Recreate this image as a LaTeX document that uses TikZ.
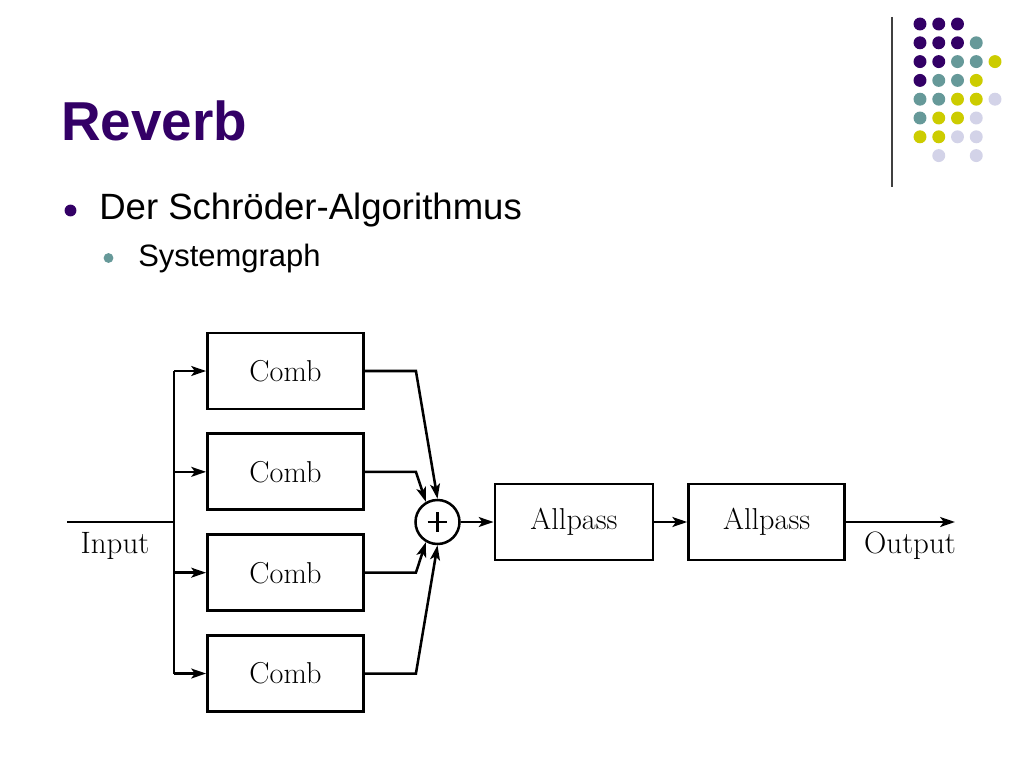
\documentclass[tikz,border=0pt]{standalone}
\usepackage{fontspec}
\setsansfont{Liberation Sans}
\usetikzlibrary{arrows.meta,positioning}
\definecolor{slidepurple}{HTML}{330066}
\definecolor{slideteal}{HTML}{669999}
\definecolor{slideyellow}{HTML}{CCCC00}
\definecolor{slidelav}{HTML}{D3D3E8}

\begin{document}
\begin{tikzpicture}[
  x=0.025cm, y=-0.025cm,
  node distance=0.82cm,
  blk/.style={draw, line width=2pt, minimum width=3.9cm, minimum height=1.9cm,
    inner sep=0pt, font=\fontsize{21.5}{24}\selectfont},
  lbl/.style={font=\fontsize{22}{25}\selectfont, inner sep=0pt, anchor=base},
  wire/.style={line width=1.8pt},
  arr/.style={-{Stealth[length=10.5pt,width=7pt,inset=2.5pt]}, line width=1.8pt}
]
  \useasboundingbox (0,0) rectangle (1024,768);
  \fill[white] (0,0) rectangle (1024,768);

  % slide decoration
  \draw[line width=1pt, black!75] (892,17) -- (892,187);
  \foreach \c/\r/\col in {0/0/slidepurple, 1/0/slidepurple, 2/0/slidepurple,
      0/1/slidepurple, 1/1/slidepurple, 2/1/slidepurple, 3/1/slideteal,
      0/2/slidepurple, 1/2/slidepurple, 2/2/slideteal, 3/2/slideteal, 4/2/slideyellow,
      0/3/slidepurple, 1/3/slideteal, 2/3/slideteal, 3/3/slideyellow,
      0/4/slideteal, 1/4/slideteal, 2/4/slideyellow, 3/4/slideyellow, 4/4/slidelav,
      0/5/slideteal, 1/5/slideyellow, 2/5/slideyellow, 3/5/slidelav,
      0/6/slideyellow, 1/6/slideyellow, 2/6/slidelav, 3/6/slidelav,
      1/7/slidelav, 3/7/slidelav}
    \fill[\col] ({920+18.75*\c},{24+18.8*\r}) circle[radius=4.6pt];

  % title and bullets
  \node[anchor=base west, inner sep=0pt, text=slidepurple,
    font=\sffamily\bfseries\fontsize{39}{44}\selectfont] (title) at (61,141) {Reverb};
  \fill[slidepurple] (70.5,210.5) circle[radius=4.2pt];
  \node[anchor=base west, inner sep=0pt,
    font=\sffamily\fontsize{26}{30}\selectfont] (item) at (99,219) {Der Schröder-Algorithmus};
  \fill[slideteal] (108.5,258) circle[radius=3.5pt];
  \node[anchor=base west, inner sep=0pt,
    font=\sffamily\fontsize{22}{26}\selectfont] (subitem) at (138,266) {Systemgraph};

  % system graph
  \node[blk] (c1) at (285.5,371) {Comb};
  \node[blk, below=0.55cm of c1] (c2) {Comb};
  \node[blk, below=0.55cm of c2] (c3) {Comb};
  \node[blk, below=0.55cm of c3] (c4) {Comb};
  \node[circle, draw, line width=1.8pt, minimum size=1.1cm, inner sep=0pt] (sum) at (437.5,522) {};
  \draw[wire] ([xshift=-7pt]sum.center) -- ([xshift=7pt]sum.center);
  \draw[wire] ([yshift=-7pt]sum.center) -- ([yshift=7pt]sum.center);
  \node[blk, minimum width=3.95cm, right=of sum] (ap1) {Allpass};
  \node[blk, right=of ap1] (ap2) {Allpass};

  \coordinate (in) at (67,522);
  \coordinate (split) at (174,522);
  \coordinate (out) at (955,522);
  \node[lbl] (inlbl) at (115,553) {Input};
  \node[lbl] (outlbl) at (910,553) {Output};

  \draw[wire] (in) -- (split);
  \draw[wire] (split |- c1) -- (split |- c4);
  \foreach \n in {c1,c2,c3,c4}
    \draw[arr] (split |- \n) -- (\n.west);
  \draw[arr] (c1.east) -- ++(51,0) -- (sum.north);
  \draw[arr] (c2.east) -- ++(51,0) -- (sum.120);
  \draw[arr] (c3.east) -- ++(51,0) -- (sum.240);
  \draw[arr] (c4.east) -- ++(51,0) -- (sum.south);
  \draw[arr] (sum) -- (ap1);
  \draw[arr] (ap1) -- (ap2);
  \draw[arr] (ap2) -- (out);
\end{tikzpicture}
\end{document}
